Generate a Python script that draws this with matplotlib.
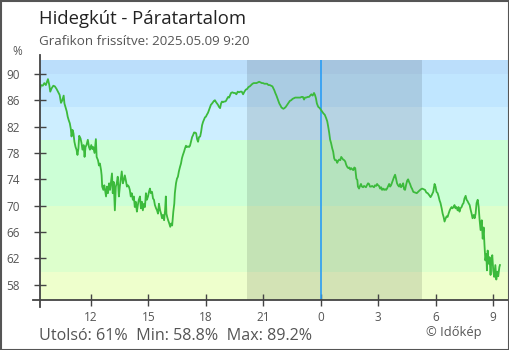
import matplotlib
matplotlib.use('Agg')
import matplotlib.pyplot as plt
from matplotlib.patches import Rectangle

plt.rcParams['font.family'] = ['Open Sans', 'DejaVu Sans']

# hours since midnight of 2025.05.08 (24 = midnight), relative humidity in %
hours_a = [9.33, 9.40, 9.50, 9.58, 9.66, 9.77, 9.84, 9.89, 9.96, 10.05,
           10.13, 10.22, 10.31, 10.38, 10.45, 10.52, 10.59, 10.63, 10.70, 10.75,
           10.80, 10.85, 10.91, 10.96, 11.00, 11.05, 11.10, 11.15, 11.21, 11.26,
           11.31, 11.36, 11.40, 11.47, 11.52, 11.57, 11.63, 11.68, 11.73, 11.78,
           11.85, 11.91, 11.96, 12.03, 12.08, 12.13, 12.20, 12.27, 12.31, 12.38,
           12.43, 12.48, 12.54, 12.57, 12.60, 12.66, 12.71, 12.76, 12.80, 12.85,
           12.90, 12.96, 13.01, 13.06, 13.11, 13.15, 13.20, 13.26, 13.31, 13.36,
           13.41, 13.47, 13.52, 13.57, 13.62, 13.68, 13.73, 13.78, 13.83, 13.89,
           13.94, 13.99, 14.04]
rh_a = [87.3, 88.3, 88.2, 88.6, 88.3, 89.2, 88.3, 87.3, 87.8, 88.2,
        88.1, 87.7, 87.2, 86.8, 85.6, 86.0, 86.7, 85.5, 84.8, 84.3,
        83.5, 83.0, 82.5, 81.7, 80.5, 81.5, 81.0, 79.7, 78.9, 78.5,
        77.7, 78.7, 80.6, 80.2, 79.5, 78.5, 79.2, 77.4, 78.9, 79.2,
        80.0, 78.9, 78.5, 79.2, 78.6, 78.9, 78.0, 80.1, 77.4, 76.9,
        76.1, 76.4, 75.4, 74.6, 72.9, 72.4, 73.1, 72.1, 71.4, 72.9,
        71.9, 73.4, 72.4, 73.6, 74.9, 71.9, 73.6, 69.3, 72.9, 73.4,
        74.4, 71.4, 72.9, 74.1, 75.2, 73.4, 73.9, 74.6, 73.9, 72.9,
        73.1, 72.9, 72.4]

hours_b = [14.09, 14.14, 14.20, 14.25, 14.30, 14.35, 14.41, 14.46, 14.51, 14.57,
           14.62, 14.67, 14.72, 14.78, 14.83, 14.88, 14.93, 14.99, 15.04, 15.09,
           15.14, 15.20, 15.25, 15.30, 15.35, 15.41, 15.46, 15.51, 15.56, 15.62,
           15.67, 15.72, 15.77, 15.83, 15.88, 15.92, 15.95,
           15.99, 16.04, 16.10, 16.15, 16.20, 16.25, 16.31, 16.36, 16.39, 16.45,
           16.50, 16.55, 16.60, 16.66, 16.71, 16.76, 16.81, 16.87, 16.92, 16.97,
           17.02, 17.08, 17.13, 17.18, 17.23, 17.29, 17.34, 17.39, 17.44, 17.50,
           17.55, 17.60, 17.65, 17.71, 17.76, 17.81, 17.86, 17.92,
           17.96, 18.01, 18.06, 18.12, 18.17, 18.22, 18.27, 18.33, 18.38, 18.43,
           18.48, 18.54, 18.59, 18.64, 18.69, 18.75, 18.80, 18.85, 18.90, 18.96,
           19.01, 19.06, 19.11, 19.17, 19.22]
rh_b = [71.4, 71.9, 70.9, 71.4, 69.8, 70.6, 69.1, 70.1, 70.9, 71.4,
        69.6, 70.6, 69.3, 70.3, 69.8, 71.9, 70.9, 71.4, 72.1, 72.6,
        71.9, 72.1, 71.1, 70.9, 70.1, 69.6, 69.3, 68.8, 70.3, 69.3,
        68.8, 68.1, 68.6, 67.8, 69.3, 71.4, 68.8,
        68.3, 67.8, 67.3, 66.8, 67.3, 67.0, 69.1, 70.3, 71.9, 73.4,
        74.1, 74.4, 75.2, 75.9, 76.4, 77.2, 77.7, 78.2, 78.7, 79.1,
        78.9, 79.0, 78.9, 79.1, 79.7, 80.4, 80.7, 81.1, 81.1, 81.0,
        80.1, 79.7, 80.4, 80.5, 81.2, 82.2, 82.7, 83.1,
        83.4, 83.5, 83.8, 84.1, 84.5, 84.9, 85.3, 85.5, 85.7, 85.9,
        86.0, 85.7, 85.5, 85.3, 85.0, 84.8, 85.5, 85.8, 85.7, 85.8,
        85.8, 85.9, 86.2, 86.5, 86.4]

hours_c = [19.32, 19.39, 19.46, 19.53, 19.60, 19.67, 19.74, 19.81, 19.88, 19.95,
           20.02, 20.09, 20.16, 20.23, 20.30, 20.37, 20.44, 20.51, 20.58, 20.65,
           20.72, 20.79, 20.86, 20.93,
           20.99, 21.06, 21.13, 21.20, 21.27, 21.34, 21.41, 21.48, 21.53, 21.58,
           21.63, 21.69, 21.74, 21.79, 21.84, 21.90, 21.95, 22.00, 22.05, 22.11,
           22.18, 22.25, 22.32, 22.39, 22.46, 22.53, 22.60, 22.67, 22.74, 22.81,
           22.88,
           22.93, 23.00, 23.07, 23.13, 23.18, 23.24, 23.32, 23.39, 23.45, 23.51,
           23.58, 23.65, 23.70, 23.75, 23.80, 23.87, 23.95]
rh_c = [87.1, 87.2, 87.1, 87.1, 86.9, 87.3, 87.2, 87.3, 87.3, 86.9,
        87.3, 87.6, 87.7, 88.0, 88.1, 88.3, 88.5, 88.6, 88.6, 88.6,
        88.7, 88.8, 88.7, 88.6,
        88.6, 88.5, 88.5, 88.5, 88.3, 88.3, 88.2, 88.1, 87.8, 87.5,
        87.1, 86.7, 86.3, 85.9, 85.5, 85.2, 84.9, 84.8, 84.7, 84.8,
        85.0, 85.3, 85.6, 85.9, 86.0, 86.2, 86.3, 86.4, 86.4, 86.4,
        86.4,
        86.4, 86.5, 86.5, 86.1, 86.4, 86.4, 86.5, 86.5, 86.7, 86.9,
        86.7, 87.1, 86.8, 86.3, 85.5, 85.0, 84.8]

hours_d = [24.07, 24.14, 24.21, 24.28, 24.34, 24.39, 24.44, 24.49, 24.54, 24.60,
           24.65, 24.70, 24.75, 24.81, 24.86, 24.91, 24.96, 25.02, 25.07, 25.12,
           25.17, 25.23, 25.28, 25.33, 25.38, 25.44, 25.49, 25.54, 25.59, 25.65,
           25.70, 25.75, 25.80, 25.86, 25.91,
           25.94, 26.00, 26.05, 26.10, 26.15, 26.21, 26.26, 26.31, 26.36, 26.41,
           26.47, 26.52, 26.57, 26.63, 26.68, 26.73, 26.78, 26.83, 26.89, 26.94,
           26.99, 27.04, 27.10, 27.15, 27.20, 27.25, 27.31, 27.36, 27.41, 27.46,
           27.52, 27.57, 27.62, 27.67, 27.73, 27.78, 27.83, 27.88,
           27.93, 27.98, 28.03, 28.09, 28.14, 28.19, 28.24, 28.30, 28.35, 28.40,
           28.45, 28.51, 28.56, 28.61, 28.66, 28.72]
rh_d = [84.3, 84.0, 83.8, 83.3, 82.8, 82.0, 81.1, 80.0, 79.5, 78.7,
        78.2, 77.2, 76.9, 76.9, 76.5, 76.8, 77.0, 76.9, 77.4, 77.2,
        77.0, 76.9, 76.7, 76.2, 75.9, 75.7, 75.8, 75.5, 75.7, 75.5,
        75.4, 75.8, 75.7, 74.1, 73.9,
        72.9, 72.6, 73.0, 73.3, 72.9, 72.8, 73.0, 72.9, 72.8, 73.1,
        73.4, 73.3, 72.9, 72.9, 73.0, 72.9, 72.8, 73.1, 73.0, 73.3,
        73.1, 73.0, 72.6, 72.8, 72.4, 72.6, 72.4, 72.5, 72.4, 72.6,
        73.0, 73.3, 72.9, 73.1, 73.6, 74.0, 74.4, 74.7,
        74.1, 73.4, 73.1, 72.9, 73.3, 72.8, 73.0, 73.4, 72.5, 72.4,
        73.1, 73.8, 74.0, 73.6, 73.3, 72.8]

hours_e = [28.76, 28.83, 28.92, 29.01, 29.08, 29.15, 29.23, 29.29, 29.36, 29.44,
           29.51, 29.58, 29.66, 29.73, 29.79, 29.87, 29.94, 29.99, 30.04, 30.10,
           30.15, 30.20, 30.25, 30.31, 30.36, 30.41, 30.46, 30.52, 30.57, 30.62,
           30.67, 30.73, 30.78, 30.83,
           30.87, 30.93, 30.98, 31.03, 31.08, 31.14, 31.19, 31.24, 31.29, 31.35,
           31.40, 31.45, 31.50, 31.56, 31.61, 31.66, 31.71, 31.77, 31.82, 31.87,
           31.92, 31.98, 32.03, 32.08, 32.13, 32.19, 32.24, 32.29, 32.34, 32.40,
           32.45, 32.50, 32.54, 32.59, 32.64, 32.67, 32.71, 32.76, 32.81, 32.86,
           32.90, 32.95, 33.00, 33.05, 33.11, 33.16, 33.21, 33.26, 33.32, 33.35]
rh_e = [72.6, 72.1, 72.0, 71.9, 72.1, 72.3, 72.5, 72.6, 72.5, 72.4,
        72.0, 71.9, 71.6, 71.3, 71.6, 72.1, 73.3, 72.9, 72.1, 71.9,
        71.4, 70.8, 70.4, 69.6, 68.8, 68.3, 67.6, 68.1, 68.4, 68.3,
        68.8, 69.3, 69.6, 69.8,
        69.6, 69.8, 70.1, 69.6, 69.8, 69.3, 69.8, 69.1, 69.6, 69.8,
        70.2, 70.4, 71.1, 71.5, 70.9, 70.7, 70.4, 70.1, 69.4, 68.8,
        68.1, 68.6, 68.1, 68.8, 70.4, 70.9, 69.8, 67.8, 66.3, 67.8,
        65.0, 66.7, 64.2, 61.7, 62.7, 60.2, 63.2, 61.2, 62.2, 59.5,
        61.7, 62.5, 60.2, 59.2, 61.0, 58.8, 60.0, 59.3, 60.7, 61.0]

hours = hours_a + hours_b + hours_c + hours_d + hours_e
rh = rh_a + rh_b + rh_c + rh_d + rh_e

band_edges = [0, 60, 70, 80, 85, 90, 100]
band_colors = ['#eeffcc', '#ddffcc', '#ccffd6', '#cdeeff', '#c0e6ff', '#bbdefb']
night_start, night_end = 20.14, 29.27
midnight = 24
x_ticks = [12, 15, 18, 21, 24, 27, 30, 33]
x_labels = ['12', '15', '18', '21', '0', '3', '6', '9']
y_ticks = [58, 62, 66, 70, 74, 78, 82, 86, 90]

W, H = 510, 350
fig = plt.figure(figsize=(W / 100, H / 100), dpi=100)
ax = fig.add_axes([40 / W, 1 - 300 / H, 468 / W, 240 / H])

for lo, hi, c in zip(band_edges[:-1], band_edges[1:], band_colors):
    ax.axhspan(lo, hi, color=c, lw=0, zorder=0)
ax.axvspan(night_start, night_end, color='black', alpha=0.11, lw=0, zorder=1)
ax.axvline(midnight, color='#2a9df4', lw=1.2, zorder=2)
ax.plot(hours, rh, color='#3cba3c', lw=1.3, zorder=3)

ax.set_xlim(9.355, 33.77)
ax.set_ylim(55.7, 92.1)
ax.set_xticks(x_ticks)
ax.set_xticklabels(x_labels)
ax.set_yticks(y_ticks)

for s in ax.spines.values():
    s.set_visible(False)
axis_col = '#444444'
ax.plot([0, 0], [-7 / 240, 1 + 5 / 240], transform=ax.transAxes,
        clip_on=False, color=axis_col, lw=1.3, zorder=5)
ax.plot([-7 / 468, 1], [0, 0], transform=ax.transAxes,
        clip_on=False, color=axis_col, lw=1.3, zorder=5)

ax.tick_params(direction='inout', length=9, width=1, color=axis_col,
               labelsize=8.5, labelcolor='#555555')
ax.tick_params(axis='y', pad=10)
ax.tick_params(axis='x', pad=3.5)

fig.text(39 / W, 1 - 24.5 / H, 'Hidegkút - Páratartalom', fontsize=13.3,
         color='#222222', va='baseline')
fig.text(39 / W, 1 - 45 / H, 'Grafikon frissítve: 2025.05.09 9:20',
         fontsize=9.6, color='#555555', va='baseline')
fig.text(17 / W, 1 - 55 / H, '%', fontsize=8.5, color='#555555',
         ha='center', va='baseline')
fig.text(39 / W, 1 - 340 / H, 'Utolsó: 61%  Min: 58.8%  Max: 89.2%',
         fontsize=11.6, color='#555555', va='baseline')
fig.text(482 / W, 1 - 336 / H, '© Időkép', fontsize=9.3, color='#555555',
         ha='right', va='baseline')

fig.patches.append(Rectangle((0.5 / W, 0.5 / H), 1 - 1.5 / W, 1 - 1.5 / H,
                             transform=fig.transFigure, fill=False,
                             edgecolor='#555555', lw=1.5))

fig.savefig('out.png', dpi=100)
